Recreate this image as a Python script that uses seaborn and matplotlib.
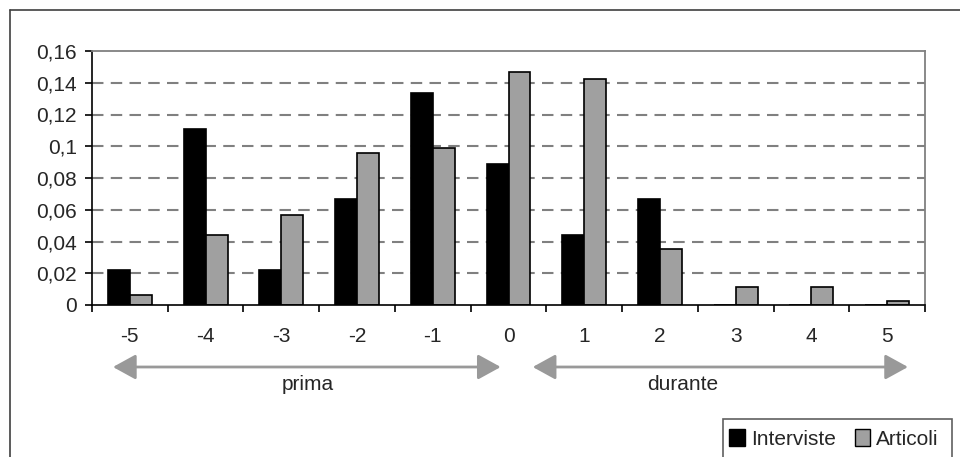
import matplotlib
matplotlib.use("Agg")
import matplotlib.pyplot as plt
from matplotlib.patches import Patch, Rectangle
from matplotlib.lines import Line2D
import matplotlib.transforms as mtransforms
import seaborn as sns
import pandas as pd

# ---- data ----
categories = ['-5', '-4', '-3', '-2', '-1', '0', '1', '2', '3', '4', '5']
interviste = [0.0222, 0.1111, 0.0222, 0.0667, 0.1333, 0.0889, 0.0444, 0.0667, 0.0, 0.0, 0.0]
articoli = [0.0063, 0.0443, 0.0569, 0.0959, 0.0987, 0.1466, 0.1426, 0.0355, 0.0115, 0.0115, 0.0025]
series_names = ['Interviste', 'Articoli']
y_ticks = [0, 0.02, 0.04, 0.06, 0.08, 0.10, 0.12, 0.14, 0.16]
y_tick_labels = ['0', '0,02', '0,04', '0,06', '0,08', '0,1', '0,12', '0,14', '0,16']
phase_labels = ['prima', 'durante']

sns.set_style("white")
plt.rcParams['font.family'] = ['Liberation Sans', 'DejaVu Sans']

FS = 15

df = pd.DataFrame({
    'tempo': categories * 2,
    'valore': interviste + articoli,
    'serie': [series_names[0]] * len(categories) + [series_names[1]] * len(categories),
})

colors = {'Interviste': '#000000', 'Articoli': '#a0a0a0'}

fig = plt.figure(figsize=(9.6, 4.57), dpi=100)
ax = fig.add_axes([92 / 960, 1 - 305 / 457, (925 - 92) / 960, (305 - 51) / 457])

sns.barplot(data=df, x='tempo', y='valore', hue='serie', order=categories,
            hue_order=series_names, palette=colors, width=0.58,
            edgecolor='black', linewidth=1.2, saturation=1, ax=ax, legend=False)

ax.set_xlim(-0.5, len(categories) - 0.5)
ax.set_ylim(0, 0.16)
ax.set_xlabel('')
ax.set_ylabel('')

# gridlines
for t in y_ticks[1:-1]:
    ax.axhline(t, color='#808080', lw=1.5, ls=(0, (5.5, 3.5)), zorder=0)

# spines
for s in ['top', 'right']:
    ax.spines[s].set_color('#808080')
    ax.spines[s].set_linewidth(1.3)
for s in ['left', 'bottom']:
    ax.spines[s].set_color('black')
    ax.spines[s].set_linewidth(1.2)

ax.set_yticks(y_ticks)
ax.set_yticklabels(y_tick_labels)
ax.tick_params(axis='y', direction='out', length=5, width=1.2, color='black',
               pad=6, labelsize=FS, left=True)

ax.set_xticks(range(len(categories)))
ax.set_xticklabels(categories)
ax.tick_params(axis='x', which='major', length=0, pad=16, labelsize=FS)
ax.set_xticks([i - 0.5 for i in range(len(categories) + 1)], minor=True)
ax.tick_params(axis='x', which='minor', direction='out', length=5, width=1.2,
               color='black', bottom=True)

# arrows below the axis
trans = mtransforms.blended_transform_factory(ax.transData, ax.transAxes)
arrow_y = (305 - 367) / 254
text_y = (305 - 384) / 254
arrow_spans = [(-0.223, 4.897), (5.32, 10.275)]
text_x = [2.352, 7.30]
for (x0, x1), tx, lab in zip(arrow_spans, text_x, phase_labels):
    ax.annotate('', xy=(x1, arrow_y), xytext=(x0, arrow_y), xycoords=trans,
                textcoords=trans, annotation_clip=False,
                arrowprops=dict(arrowstyle='<|-|>,head_length=1.0,head_width=0.55',
                                mutation_scale=14, color='#999999', lw=2,
                                shrinkA=0, shrinkB=0))
    ax.text(tx, text_y, lab, transform=trans, ha='center', va='center',
            fontsize=FS, clip_on=False)

# legend
handles = [Patch(facecolor=colors[n], edgecolor='black', linewidth=1.0) for n in series_names]
fig.legend(handles, series_names, loc='center left', frameon=False, ncol=2,
           bbox_to_anchor=(729 / 960, (457 - 439) / 457), fontsize=FS,
           handlelength=0.75, handleheight=0.9, handletextpad=0.3,
           columnspacing=0.9, borderpad=0, borderaxespad=0)
fig.add_artist(Rectangle((723 / 960, -0.05), (952 - 723) / 960, (457 - 419) / 457 + 0.05,
                         transform=fig.transFigure, fill=False, edgecolor='#606060',
                         lw=1.2, clip_on=False))

# outer chart frame (partially cropped)
fig.add_artist(Line2D([10 / 960, 10 / 960], [-0.01, 1 - 10 / 457],
                      transform=fig.transFigure, color='#404040', lw=1.2))
fig.add_artist(Line2D([10 / 960, 1.01], [1 - 10 / 457, 1 - 10 / 457],
                      transform=fig.transFigure, color='#404040', lw=1.2))

fig.savefig('out.png', dpi=100)
